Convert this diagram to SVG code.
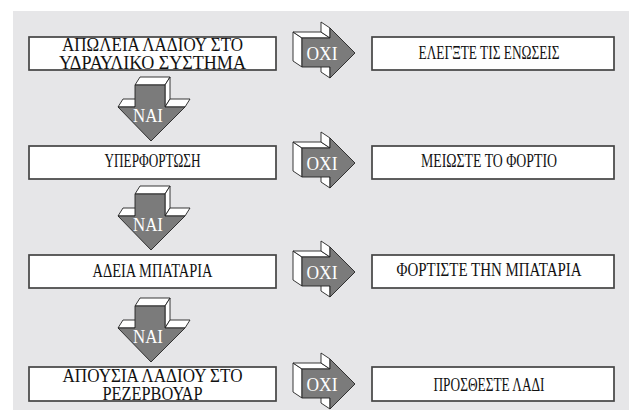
<svg xmlns="http://www.w3.org/2000/svg" width="629" height="412" viewBox="0 0 629 412">
<defs>
<style>
.panel{fill:#e6e6e8;}
.box{fill:#ffffff;stroke:#444444;stroke-width:1.7;}
.t{font-family:"Liberation Serif","Times New Roman",serif;font-size:18.5px;fill:#111;text-anchor:middle;}
.side{fill:#ffffff;stroke:#222;stroke-width:0.9;stroke-linejoin:round;}
.front{fill:#7b7b7b;stroke:#222;stroke-width:0.9;stroke-linejoin:round;}
.at{font-family:"Liberation Serif","Times New Roman",serif;font-size:19px;fill:#ffffff;text-anchor:middle;}
</style>
<g id="oxiArrow">
<polygon class="side" points="302,38 302,67 293,61 293,32"/>
<polygon class="side" points="302,38 330,38 321,32 293,32"/>
<polygon class="side" points="330,28 330,38 321,32 321,22"/>
<polygon class="side" points="330,67 330,78 321,72 321,61"/>
<polygon class="front" points="302,38 330,38 330,28 355,53 330,78 330,67 302,67"/>
<text class="at" x="322" y="59.5" textLength="31" lengthAdjust="spacingAndGlyphs">ΟΧΙ</text>
</g>
<g id="naiArrow">
<polygon class="side" points="135,85 165,85 170,77 140,77"/>
<polygon class="side" points="165,85 165,107 170,99 170,77"/>
<polygon class="side" points="118,107 135,107 140,99 123,99"/>
<polygon class="side" points="165,107 185,107 190,99 170,99"/>
<polygon class="front" points="135,85 165,85 165,107 185,107 151,141 118,107 135,107"/>
<text class="at" x="148" y="122" textLength="30" lengthAdjust="spacingAndGlyphs">ΝΑΙ</text>
</g>
</defs>
<rect class="panel" x="13" y="11" width="616" height="399"/>
<g id="connectors">
<use href="#naiArrow" id="nai1"/>
<use href="#naiArrow" id="nai2" transform="translate(0,109)"/>
<use href="#naiArrow" id="nai3" transform="translate(0,221)"/>
<use href="#oxiArrow" id="oxi1"/>
<use href="#oxiArrow" id="oxi2" transform="translate(0,110)"/>
<use href="#oxiArrow" id="oxi3" transform="translate(0,219)"/>
<use href="#oxiArrow" id="oxi4" transform="translate(0,331)"/>
</g>
<g id="q1">
<rect class="box" x="29" y="37" width="247" height="33"/>
<text class="t" x="152.5" y="50.5" textLength="181" lengthAdjust="spacingAndGlyphs">ΑΠΩΛΕΙΑ ΛΑΔΙΟΥ ΣΤΟ</text>
<text class="t" x="152.5" y="68.5" textLength="187" lengthAdjust="spacingAndGlyphs">ΥΔΡΑΥΛΙΚΟ ΣΥΣΤΗΜΑ</text>
</g>
<g id="a1">
<rect class="box" x="372" y="37" width="242" height="33"/>
<text class="t" x="489" y="58.5" textLength="141" lengthAdjust="spacingAndGlyphs">ΕΛΕΓΞΤΕ ΤΙΣ ΕΝΩΣΕΙΣ</text>
</g>
<g id="q2">
<rect class="box" x="29" y="146" width="247" height="33"/>
<text class="t" x="152.5" y="166.5" textLength="96" lengthAdjust="spacingAndGlyphs">ΥΠΕΡΦΟΡΤΩΣΗ</text>
</g>
<g id="a2">
<rect class="box" x="372" y="146" width="242" height="33"/>
<text class="t" x="489" y="166.5" textLength="136" lengthAdjust="spacingAndGlyphs">ΜΕΙΩΣΤΕ ΤΟ ΦΟΡΤΙΟ</text>
</g>
<g id="q3">
<rect class="box" x="29" y="255" width="247" height="33"/>
<text class="t" x="152.5" y="276.5" textLength="120" lengthAdjust="spacingAndGlyphs">ΑΔΕΙΑ ΜΠΑΤΑΡΙΑ</text>
</g>
<g id="a3">
<rect class="box" x="372" y="255" width="242" height="33"/>
<text class="t" x="489" y="275.5" textLength="185" lengthAdjust="spacingAndGlyphs">ΦΟΡΤΙΣΤΕ ΤΗΝ ΜΠΑΤΑΡΙΑ</text>
</g>
<g id="q4">
<rect class="box" x="29" y="367" width="247" height="34"/>
<text class="t" x="152.5" y="381.5" textLength="180" lengthAdjust="spacingAndGlyphs">ΑΠΟΥΣΙΑ ΛΑΔΙΟΥ ΣΤΟ</text>
<text class="t" x="152.5" y="400" textLength="100" lengthAdjust="spacingAndGlyphs">ΡΕΖΕΡΒΟΥΑΡ</text>
</g>
<g id="a4">
<rect class="box" x="372" y="367" width="242" height="34"/>
<text class="t" x="489" y="390.5" textLength="111" lengthAdjust="spacingAndGlyphs">ΠΡΟΣΘΕΣΤΕ ΛΑΔΙ</text>
</g>
</svg>
